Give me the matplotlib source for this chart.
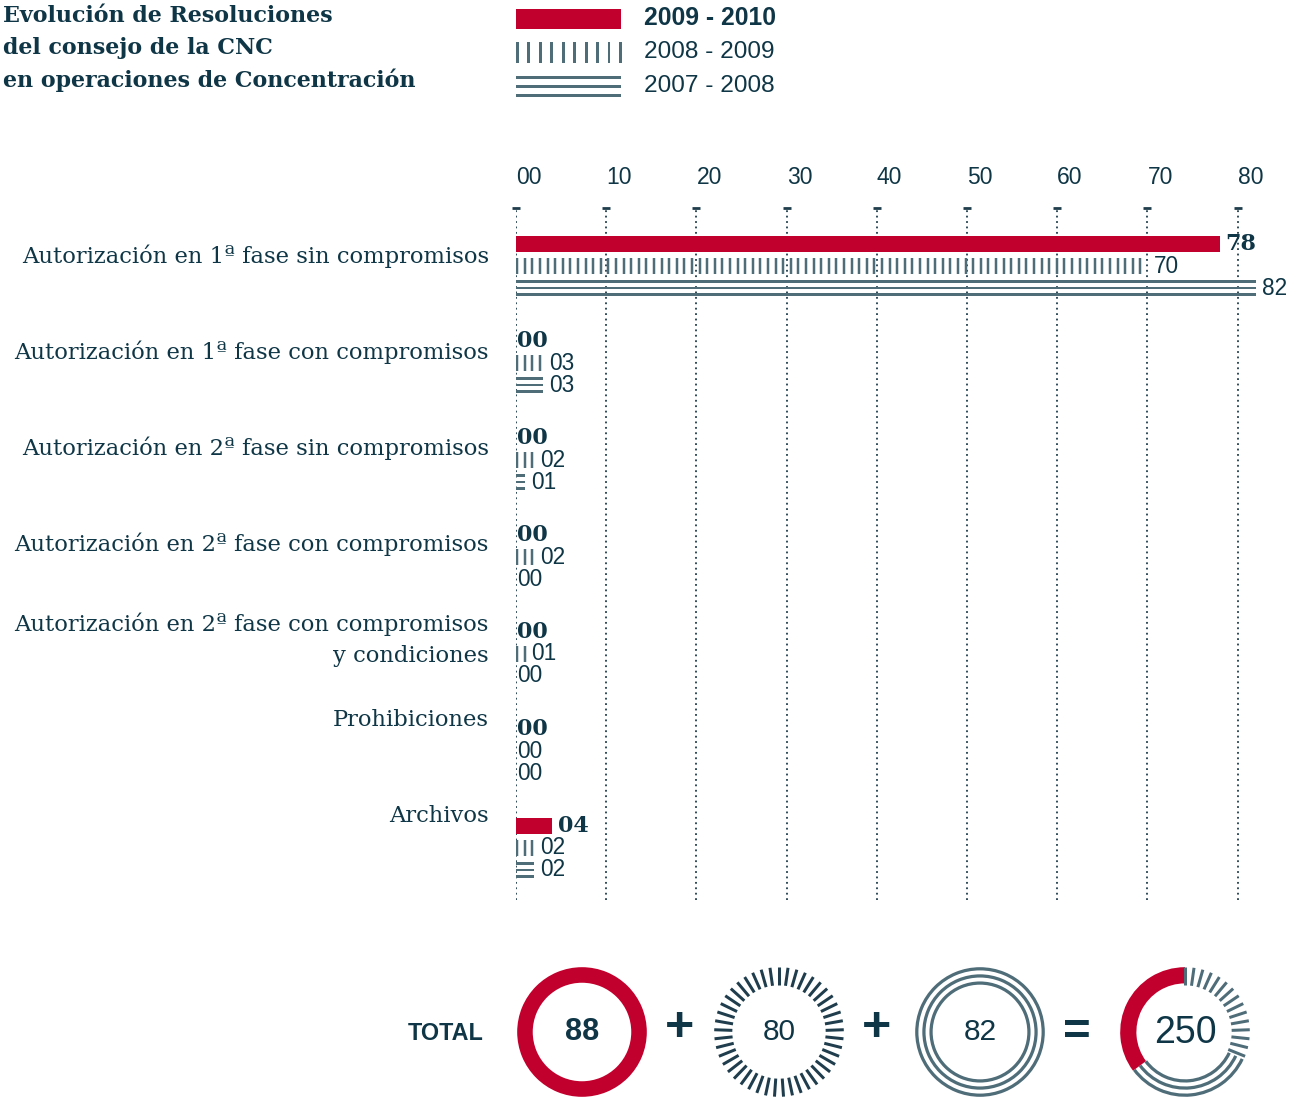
import numpy as np
import matplotlib
matplotlib.use("Agg")
import matplotlib.pyplot as plt
from matplotlib.patches import Rectangle

# ---------------- data ----------------
categories = [
    "Autorización en 1ª fase sin compromisos",
    "Autorización en 1ª fase con compromisos",
    "Autorización en 2ª fase sin compromisos",
    "Autorización en 2ª fase con compromisos",
    "Autorización en 2ª fase con compromisos\ny condiciones",
    "Prohibiciones",
    "Archivos",
]
series_names = ["2009 - 2010", "2008 - 2009", "2007 - 2008"]
v_2009_2010 = [78, 0, 0, 0, 0, 0, 4]
v_2008_2009 = [70, 3, 2, 2, 1, 0, 2]
v_2007_2008 = [82, 3, 1, 0, 0, 0, 2]
tick_values = [0, 10, 20, 30, 40, 50, 60, 70, 80]
tick_labels = ["00", "10", "20", "30", "40", "50", "60", "70", "80"]
totals = [88, 80, 82]          # as printed: 2009-10, 2008-09, 2007-08
total_label = "TOTAL"

# ---------------- style ----------------
W, H = 1308, 1097
RED = "#c2002d"
SLATE = "#4f6c79"
DARK = "#0f3646"
GRID = "#1f3d4c"
SANS = "Liberation Sans"
SERIF = "DejaVu Serif"
PT = 0.72  # points per pixel at dpi 100

fig = plt.figure(figsize=(W / 100, H / 100), dpi=100)
fig.patch.set_facecolor("white")


def fx(px):
    return px / W


def fy(py):
    return 1 - py / H


# ---------------- title ----------------
title_lines = ["Evolución de Resoluciones", "del consejo de la CNC",
               "en operaciones de Concentración"]
for j, t in enumerate(title_lines):
    fig.text(fx(3), fy(16 + 32 * j), t, ha="left", va="center",
             fontsize=15.9, fontweight="bold", family=SERIF, color=DARK)

# ---------------- legend ----------------
lg = fig.add_axes([fx(500), fy(100), 300 / W, 100 / H])
lg.set_xlim(500, 800)
lg.set_ylim(100, 0)
lg.axis("off")
lg.add_patch(Rectangle((516, 9), 105, 20, color=RED, lw=0))
for i in range(10):
    lg.add_patch(Rectangle((516 + i * 11.45, 42), 2.8, 21, color=SLATE, lw=0))
for yy in (75.5, 84.5, 93.5):
    lg.add_patch(Rectangle((516, yy), 105, 3, color=SLATE, lw=0))
for j, name in enumerate(series_names):
    lg.text(644, 18 + 34 * j, name, ha="left", va="center",
            fontsize=17.8 if j == 0 else 17.6,
            family=SANS, color=DARK, fontweight="bold" if j == 0 else "normal")

# ---------------- main bar chart ----------------
UNIT = 97.0                      # px per category
top_px, bot_px, left_px = 208, 900, 516
px_per_val = 9.02
xmax = 87
ax = fig.add_axes([fx(left_px), fy(bot_px), xmax * px_per_val / W,
                   (bot_px - top_px) / H])
ax.set_xlim(0, xmax)
y_top = -(266 - top_px) / UNIT
y_bot = (bot_px - 266) / UNIT
ax.set_ylim(y_bot, y_top)

y = np.arange(len(categories))
off = 22 / UNIT
bh = 15.5 / UNIT

# 2009-2010: solid red bars
ax.barh(y - off, v_2009_2010, height=bh, color=RED, lw=0, zorder=3)

# 2008-2009: vertical stripes filling each bar's extent
stripe_step = 7.6 / px_per_val
stripe_hw = 1.25 / px_per_val
sh = 16 / UNIT
for yi, v in zip(y, v_2008_2009):
    if v <= 0:
        continue
    xs = np.arange(stripe_hw, v, stripe_step)
    ax.vlines(xs, yi - sh / 2, yi + sh / 2, colors=SLATE, lw=2.5 * PT,
              capstyle="butt", zorder=3)

# 2007-2008: three thin parallel lines per bar
line_gap = 6.8 / UNIT
for k in (-1, 0, 1):
    ax.barh(y + off + k * line_gap, v_2007_2008, height=2.9 / UNIT,
            color=SLATE, lw=0, zorder=3)

for vals, dy, bold in ((v_2009_2010, -off, True), (v_2008_2009, 0, False),
                       (v_2007_2008, off, False)):
    for yi, v in zip(y, vals):
        ax.annotate(f"{v:02d}", xy=(v, yi + dy), xytext=((6 if v > 0 else 1) * PT, 0),
                    textcoords="offset points", ha="left", va="center",
                    fontsize=16 if bold else 16.3,
                    family=SERIF if bold else SANS,
                    fontweight="bold" if bold else "normal", color=DARK,
                    annotation_clip=False, zorder=4)

# axis / grid
ax.set_xticks(tick_values)
ax.set_xticklabels(tick_labels)
ax.xaxis.tick_top()
ax.tick_params(axis="x", length=0, pad=19 * PT, labelsize=16.5, labelcolor=DARK)
for lbl in ax.get_xticklabels():
    lbl.set_horizontalalignment("left")
    lbl.set_family(SANS)
ax.set_yticks([])
for s in ax.spines.values():
    s.set_visible(False)
ax.xaxis.grid(True, linestyle=(0, (1, 2)), color=GRID, lw=1.3)
ax.set_axisbelow(True)
ax.plot(tick_values, [y_top] * len(tick_values), ls="none", marker="_",
        markersize=8 * PT, mew=2, color=GRID, clip_on=False, zorder=2)

# category labels
label_dy_px = [-10, -11, -12, -13, -14, -31, -32]
for yi, lab, d in zip(y, categories, label_dy_px):
    lines = lab.split("\n")
    n = len(lines)
    for j, line in enumerate(lines):
        ddy = d + (j - (n - 1) / 2) * 32
        ax.annotate(line, xy=(0, yi), xycoords=("axes fraction", "data"),
                    xytext=(-27 * PT, -ddy * PT), textcoords="offset points",
                    ha="right", va="center", fontsize=16.3, family=SERIF,
                    color=DARK, annotation_clip=False)

# ---------------- totals row ----------------
CY = 1032


def circ_ax(cx):
    return fig.add_axes([fx(cx - 70), fy(CY + 70), 140 / W, 140 / H])


def finish(a):
    a.set_xlim(-1.08, 1.08)
    a.set_ylim(-1.08, 1.08)
    a.set_aspect("equal")
    a.axis("off")


def radial_ticks(a, th_from, th_to, step, r0=0.74, r1=1.0, color=SLATE, lw=2.8):
    angs = np.arange(th_to, th_from - 1e-6, -step)
    for t in np.deg2rad(angs):
        a.plot([r0 * np.cos(t), r1 * np.cos(t)], [r0 * np.sin(t), r1 * np.sin(t)],
               color=color, lw=lw * PT, solid_capstyle="butt")


ring_radii = (1.0, 0.89, 0.78)

fig.text(fx(408), fy(1034), total_label, ha="left", va="center",
         fontsize=16.8, fontweight="bold", family=SANS, color=DARK)

# circle 1: 2009-2010
a1 = circ_ax(582)
a1.pie([totals[0]], colors=[RED], radius=1.0, startangle=90,
       wedgeprops=dict(width=0.24, lw=0))
a1.text(0, 0, f"{totals[0]}", ha="center", va="center", fontsize=22,
        fontweight="bold", family=SANS, color=DARK)
finish(a1)

# circle 2: 2008-2009
a2 = circ_ax(779)
w2, _ = a2.pie([totals[1]], colors=["none"], radius=1.0, startangle=90,
               wedgeprops=dict(width=0.26, lw=0))
radial_ticks(a2, w2[0].theta1 + 4, w2[0].theta2, 8, r0=0.72, r1=1.0,
             color=GRID, lw=3.0)
a2.text(0, 0, f"{totals[1]}", ha="center", va="center", fontsize=21.5,
        family=SANS, color=DARK)
finish(a2)

# circle 3: 2007-2008
a3 = circ_ax(980)
for r in ring_radii:
    a3.pie([totals[2]], colors=[SLATE], radius=r, startangle=90,
           wedgeprops=dict(width=0.05, lw=0))
a3.text(0, 0, f"{totals[2]}", ha="center", va="center", fontsize=21.5,
        family=SANS, color=DARK)
finish(a3)

# circle 4: sum
a4 = circ_ax(1185)
order = [totals[0], totals[2], totals[1]]
w4, _ = a4.pie(order, colors=[RED, "none", "none"], radius=1.0, startangle=90,
               counterclock=True, wedgeprops=dict(width=0.25, lw=0))
for r in ring_radii:
    a4.pie(order, colors=["none", SLATE, "none"], radius=r, startangle=90,
           counterclock=True, wedgeprops=dict(width=0.05, lw=0))
radial_ticks(a4, w4[2].theta1 + 3, w4[2].theta2, 8, r0=0.72, r1=1.0,
             color=SLATE, lw=3.0)
a4.text(0, -0.02, f"{sum(totals)}", ha="center", va="center", fontsize=27,
        family=SANS, color=DARK)
finish(a4)

fig.text(fx(680), fy(1028), "+", ha="center", va="center", fontsize=36,
         fontweight="bold", family=SANS, color=DARK)
fig.text(fx(877), fy(1028), "+", ha="center", va="center", fontsize=36,
         fontweight="bold", family=SANS, color=DARK)
fig.text(fx(1077), fy(1033), "=", ha="center", va="center", fontsize=34,
         fontweight="bold", family=SANS, color=DARK)

fig.savefig("out.png", dpi=100, facecolor="white")
